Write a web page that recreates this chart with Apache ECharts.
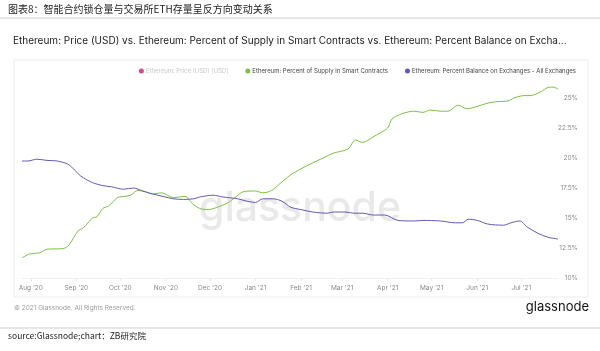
<!DOCTYPE html>
<html>
<head>
<meta charset="utf-8">
<script src="https://cdn.jsdelivr.net/npm/echarts@6/dist/echarts.min.js"></script>
<style>
  html, body { margin: 0; padding: 0; background: #fff; }
  #main { width: 600px; height: 351px; }
</style>
</head>
<body>
<div id="main"></div>
<script>
// 智能合约锁仓占比（绿色）
var contractDates = ['2020-07-26', '2020-07-31', '2020-08-07', '2020-08-12', '2020-08-23', '2020-08-27',
  '2020-09-02', '2020-09-06', '2020-09-12', '2020-09-15', '2020-09-19', '2020-09-23', '2020-09-29',
  '2020-10-04', '2020-10-08', '2020-10-13', '2020-10-18', '2020-10-23', '2020-10-29',
  '2020-11-06', '2020-11-14', '2020-11-19', '2020-11-24', '2020-11-30',
  '2020-12-06', '2020-12-13', '2020-12-18', '2020-12-24',
  '2021-01-01', '2021-01-06', '2021-01-12', '2021-01-18', '2021-01-25',
  '2021-02-01', '2021-02-09', '2021-02-16', '2021-02-23',
  '2021-03-05', '2021-03-10', '2021-03-15', '2021-03-22', '2021-03-27',
  '2021-04-01', '2021-04-04', '2021-04-11', '2021-04-19', '2021-04-25', '2021-04-30',
  '2021-05-07', '2021-05-12', '2021-05-19', '2021-05-25',
  '2021-06-01', '2021-06-09', '2021-06-15', '2021-06-22', '2021-06-26',
  '2021-07-03', '2021-07-07', '2021-07-14', '2021-07-20', '2021-07-23', '2021-07-26'];
var contractValues = [11.67, 12.0, 12.1, 12.4, 12.45, 12.75,
  13.9, 14.2, 15.0, 15.1, 15.8, 16.0, 16.7,
  16.8, 16.9, 17.3, 17.2, 17.0, 17.1,
  16.7, 16.8, 16.2, 15.8, 15.7,
  15.9, 16.25, 16.7, 17.2,
  17.25, 17.1, 17.3, 17.9, 18.6,
  19.1, 19.6, 20.0, 20.4,
  20.75, 21.5, 21.3, 21.75, 22.1,
  22.5, 23.25, 23.7, 23.9, 23.8, 24.0,
  23.9, 23.9, 24.4, 24.1,
  24.3, 24.6, 24.7, 24.75, 25.0,
  25.2, 25.2, 25.5, 25.9, 25.9, 25.75];

// 交易所ETH存量占比（紫色）
var exchangeDates = ['2020-07-26', '2020-07-30', '2020-08-05', '2020-08-12', '2020-08-19', '2020-08-26', '2020-08-30',
  '2020-09-04', '2020-09-12', '2020-09-19', '2020-09-25',
  '2020-10-03', '2020-10-10', '2020-10-16', '2020-10-23', '2020-10-30',
  '2020-11-06', '2020-11-13', '2020-11-20', '2020-11-24',
  '2020-12-03', '2020-12-10', '2020-12-20', '2020-12-26',
  '2021-01-01', '2021-01-06', '2021-01-13', '2021-01-19', '2021-01-25',
  '2021-02-01', '2021-02-09', '2021-02-19', '2021-02-23',
  '2021-03-03', '2021-03-09', '2021-03-15', '2021-03-22', '2021-03-30',
  '2021-04-08', '2021-04-19', '2021-04-25',
  '2021-05-07', '2021-05-17', '2021-05-22', '2021-05-26',
  '2021-06-01', '2021-06-08', '2021-06-19', '2021-06-24', '2021-06-30',
  '2021-07-05', '2021-07-12', '2021-07-19', '2021-07-26'];
var exchangeValues = [19.75, 19.75, 19.9, 19.8, 19.75, 19.5, 19.1,
  18.5, 17.95, 17.7, 17.6,
  17.4, 17.5, 17.25, 17.0, 16.8,
  16.6, 16.55, 16.6, 16.75,
  16.9, 16.75, 16.6, 16.4,
  16.3, 16.6, 16.6, 16.4, 15.9,
  15.7, 15.5, 15.4, 15.5,
  15.5, 15.4, 15.4, 15.25, 15.25,
  14.8, 14.75, 14.8,
  14.75, 14.6, 14.6, 14.9,
  14.8, 14.5, 14.4, 14.6, 14.75,
  14.25, 13.75, 13.4, 13.25];

var priceValues = [];   // 价格序列在原图中未显示

var monthNames = ['Jan', 'Feb', 'Mar', 'Apr', 'May', 'Jun', 'Jul', 'Aug', 'Sep', 'Oct', 'Nov', 'Dec'];
var yMin = 10, yMax = 26.5, yStep = 2.5;

var seriesNames = ['Ethereum: Price (USD) [USD]',
  'Ethereum: Percent of Supply in Smart Contracts',
  'Ethereum: Percent Balance on Exchanges - All Exchanges'];

function zip(dates, values) {
  return dates.map(function (d, i) { return [d, values[i]]; });
}

var chart = echarts.init(document.getElementById('main'));

var option = {
  backgroundColor: '#fff',
  animation: false,
  textStyle: { fontFamily: 'Inter, Roboto, sans-serif' },
  legend: {
    top: 63,
    right: 19,
    itemWidth: 5,
    itemHeight: 5,
    itemGap: 17,
    icon: 'circle',
    textStyle: { fontSize: 6, color: '#444', padding: [0, 0, 0, -3] },
    data: [
      { name: seriesNames[0], textStyle: { color: '#c8c8c8' } },
      { name: seriesNames[1] },
      { name: seriesNames[2] }
    ]
  },
  grid: { left: 22, right: 42, top: 80, bottom: 73 },
  xAxis: {
    type: 'time',
    min: '2020-07-26',
    max: '2021-07-26',
    splitNumber: 12,
    minInterval: 28 * 86400000,
    maxInterval: 31 * 86400000,
    axisLine: { show: true, lineStyle: { color: '#f0f0f0' } },
    axisTick: { show: true, length: 3, lineStyle: { color: '#e6e6e6' } },
    splitLine: { show: false },
    axisLabel: {
      color: '#888',
      fontSize: 6.5,
      margin: 7,
      hideOverlap: false,
      formatter: function (v) {
        var d = new Date(v);
        return monthNames[d.getMonth()] + " '" + String(d.getFullYear()).slice(2);
      }
    }
  },
  yAxis: {
    type: 'value',
    position: 'right',
    min: yMin,
    max: yMax,
    interval: yStep,
    axisLine: { show: false },
    axisTick: { show: false },
    splitLine: { show: false },
    axisLabel: {
      color: '#888',
      fontSize: 6.5,
      align: 'right',
      margin: 20,
      showMaxLabel: false,
      formatter: function (v) { return v + '%'; }
    }
  },
  series: [
    {
      name: seriesNames[0],
      type: 'line',
      color: '#d6478f',
      showSymbol: false,
      data: priceValues
    },
    {
      name: seriesNames[1],
      type: 'line',
      color: '#7cc13f',
      showSymbol: false,
      smooth: 0.3,
      lineStyle: { width: 1 },
      data: zip(contractDates, contractValues)
    },
    {
      name: seriesNames[2],
      type: 'line',
      color: '#6559b3',
      showSymbol: false,
      smooth: 0.3,
      lineStyle: { width: 1 },
      data: zip(exchangeDates, exchangeValues)
    }
  ],
  graphic: [
    {
      type: 'text', left: 8, top: 4, z: 10,
      style: { text: '图表8：智能合约锁仓量与交易所ETH存量呈反方向变动关系', fill: '#222',
        font: '10px "Noto Sans CJK SC", sans-serif' }
    },
    {
      type: 'line', z: 10,
      shape: { x1: 0, y1: 18, x2: 600, y2: 18 },
      style: { stroke: '#cfcfcf', lineWidth: 1 }
    },
    {
      type: 'text', left: 13, top: 36, z: 10,
      style: { text: 'Ethereum: Price (USD) vs. Ethereum: Percent of Supply in Smart Contracts vs. Ethereum: Percent Balance on Excha...',
        fill: '#222', font: '10px Inter, sans-serif' }
    },
    {
      type: 'rect', z: -10,
      shape: { x: 14, y: 60, width: 574, height: 237 },
      style: { fill: '#fff', stroke: '#ececec', lineWidth: 1 }
    },
    {
      type: 'text', z: -5, x: 300, y: 188,
      style: { text: 'glassnode', fill: '#e9e9e9', align: 'center', verticalAlign: 'alphabetic',
        font: '500 41px Inter, sans-serif' }
    },
    {
      type: 'text', left: 14, top: 305, z: 10,
      style: { text: '© 2021 Glassnode. All Rights Reserved.', fill: '#9a9a9a', font: '6.5px Inter, sans-serif' }
    },
    {
      type: 'text', right: 11, top: 301, z: 10,
      style: { text: 'glassnode', fill: '#111', font: '13px Inter, sans-serif' }
    },
    {
      type: 'line', z: 10,
      shape: { x1: 0, y1: 328, x2: 600, y2: 328 },
      style: { stroke: '#cfcfcf', lineWidth: 1 }
    },
    {
      type: 'text', left: 8, top: 332, z: 10,
      style: { text: 'source:Glassnode;chart：ZB研究院', fill: '#222',
        font: '8.5px "Noto Sans CJK SC", sans-serif' }
    }
  ]
};

chart.setOption(option);
</script>
</body>
</html>
